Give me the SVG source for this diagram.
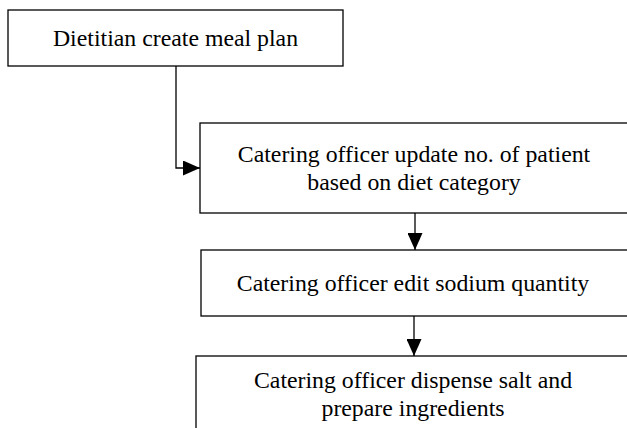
<svg xmlns="http://www.w3.org/2000/svg" width="627" height="428" viewBox="0 0 627 428">
  <style>
    .box { fill: #ffffff; stroke: #000000; stroke-width: 1.3; }
    .label { font-family: "Liberation Serif", "Times New Roman", serif; font-size: 23.8px; fill: #000000; text-anchor: middle; }
    .wire { fill: none; stroke: #000000; stroke-width: 1.3; }
  </style>
  <defs>
    <marker id="arrow" viewBox="0 0 17 15" refX="17" refY="7.5" markerWidth="17" markerHeight="15" markerUnits="userSpaceOnUse" orient="auto">
      <path d="M0,0 L17,7.5 L0,15 Z" fill="#000000"/>
    </marker>
  </defs>

  <rect width="627" height="428" fill="#ffffff"/>

  <g id="connectors">
    <path class="wire" d="M176,66 V168 H200" marker-end="url(#arrow)"/>
    <path class="wire" d="M415,213 V250" marker-end="url(#arrow)"/>
    <path class="wire" d="M414,316 V356" marker-end="url(#arrow)"/>
  </g>

  <g id="create-meal-plan">
    <rect class="box" x="8" y="10" width="335" height="56"/>
    <text class="label" x="175.5" y="46">Dietitian create meal plan</text>
  </g>

  <g id="update-patients">
    <rect class="box" x="200" y="123" width="440" height="90"/>
    <text class="label" x="414" y="162">Catering officer update no. of patient</text>
    <text class="label" x="414" y="190">based on diet category</text>
  </g>

  <g id="edit-sodium">
    <rect class="box" x="201" y="250" width="440" height="66"/>
    <text class="label" x="413" y="291">Catering officer edit sodium quantity</text>
  </g>

  <g id="dispense-salt">
    <rect class="box" x="196" y="356" width="445" height="90"/>
    <text class="label" x="413" y="388">Catering officer dispense salt and</text>
    <text class="label" x="413" y="416">prepare ingredients</text>
  </g>
</svg>
